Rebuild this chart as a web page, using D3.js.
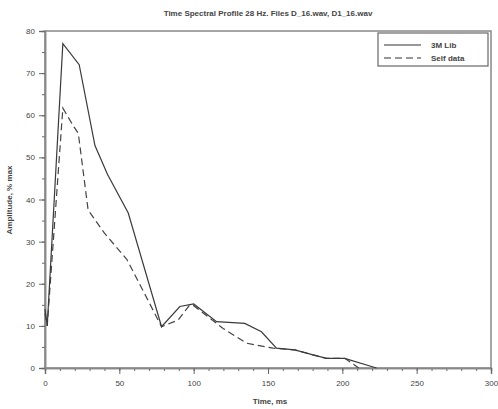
<!DOCTYPE html>
<html>
<head>
<meta charset="utf-8">
<script src="https://cdn.jsdelivr.net/npm/d3@7"></script>
<style>
  body { margin: 0; background: #fff; }
  text { font-family: "Liberation Sans", Arial, sans-serif; fill: #444; }
</style>
</head>
<body>
<div id="chart"></div>
<script>
// series: [time ms, amplitude % max]
const libTime = [0, 1.5, 12, 23, 33.6, 42, 56, 78.4, 90.7, 100, 115.4, 134.4, 145.6, 155.7, 168, 180.3, 189.3, 201.6, 223];
const libAmp  = [14, 10, 77, 72, 52.8, 46, 36.8, 9.8, 14.6, 15.2, 11, 10.6, 8.6, 4.7, 4.3, 3.1, 2.3, 2.3, 0];
const selfTime = [0, 1.5, 12, 19, 22.4, 29, 40, 55, 65, 78.4, 89.6, 97.4, 100, 119.8, 135.5, 153.4, 168, 180.3, 189.3, 201.6, 211];
const selfAmp  = [13, 10, 61.7, 57.5, 55.7, 37.5, 32, 25.8, 19, 9.8, 11.4, 15, 14.8, 9.4, 5.9, 4.7, 4.3, 3.1, 2.3, 2.3, 0];
const seriesNames = ["3M Lib", "Self data"];
const xTicks = [0, 50, 100, 150, 200, 250, 300];
const yTicks = [0, 10, 20, 30, 40, 50, 60, 70, 80];

const dims = {
  width: 498,
  height: 409,
  margin: { left: 45, right: 7, top: 31, bottom: 41 }
};
dims.boundedWidth = dims.width - dims.margin.left - dims.margin.right;
dims.boundedHeight = dims.height - dims.margin.top - dims.margin.bottom;

const svg = d3.select("#chart").append("svg")
  .attr("width", dims.width)
  .attr("height", dims.height);

const bounds = svg.append("g")
  .attr("transform", `translate(${dims.margin.left},${dims.margin.top})`);

const xScale = d3.scaleLinear().domain([0, 300]).range([0, dims.boundedWidth]);
const yScale = d3.scaleLinear().domain([0, 80]).range([dims.boundedHeight, 0]);

// frame
bounds.append("rect")
  .attr("width", dims.boundedWidth)
  .attr("height", dims.boundedHeight)
  .attr("fill", "none")
  .attr("stroke", "#888")
  .attr("stroke-width", 1.5);

// minor ticks
const xAxisMinor = d3.axisBottom(xScale).tickValues(d3.range(0, 301, 10)).tickSize(3).tickFormat("");
const yAxisMinor = d3.axisLeft(yScale).tickValues(d3.range(0, 81, 5)).tickSize(3).tickFormat("");
// major ticks with labels
const xAxis = d3.axisBottom(xScale).tickValues(xTicks).tickSize(6).tickPadding(6);
const yAxis = d3.axisLeft(yScale).tickValues(yTicks).tickSize(6).tickPadding(4);

function styleAxis(g) {
  g.select(".domain").attr("stroke", "#888").attr("stroke-width", 1.5);
  g.selectAll(".tick line").attr("stroke", "#666");
  g.selectAll(".tick text").attr("fill", "#555").style("font-size", "8px");
}

bounds.append("g").attr("transform", `translate(0,${dims.boundedHeight})`).call(xAxisMinor).call(styleAxis);
bounds.append("g").call(yAxisMinor).call(styleAxis);
bounds.append("g").attr("transform", `translate(0,${dims.boundedHeight})`).call(xAxis).call(styleAxis);
bounds.append("g").call(yAxis).call(styleAxis);

// lines
const libData = libTime.map((t, i) => ({ t, v: libAmp[i] }));
const selfData = selfTime.map((t, i) => ({ t, v: selfAmp[i] }));

const line = d3.line()
  .x(d => xScale(d.t))
  .y(d => yScale(d.v));

bounds.append("path")
  .datum(selfData)
  .attr("d", line)
  .attr("fill", "none")
  .attr("stroke", "#444")
  .attr("stroke-width", 1.2)
  .attr("stroke-dasharray", "7,4");

bounds.append("path")
  .datum(libData)
  .attr("d", line)
  .attr("fill", "none")
  .attr("stroke", "#3a3a3a")
  .attr("stroke-width", 1.2);

// legend
const legend = svg.append("g").attr("transform", "translate(378,33)");
legend.append("rect")
  .attr("width", 110)
  .attr("height", 33)
  .attr("fill", "#fff")
  .attr("stroke", "#666")
  .attr("stroke-width", 1.2);
seriesNames.forEach((name, i) => {
  const y = 12 + i * 13;
  legend.append("line")
    .attr("x1", 6).attr("x2", 43)
    .attr("y1", y).attr("y2", y)
    .attr("stroke", "#333")
    .attr("stroke-width", 1.2)
    .attr("stroke-dasharray", i === 0 ? null : "7,4");
  legend.append("text")
    .attr("x", 53).attr("y", y + 3)
    .style("font-size", "8px")
    .style("font-weight", "bold")
    .text(name);
});

// title and axis labels
svg.append("text")
  .attr("x", 268).attr("y", 16)
  .attr("text-anchor", "middle")
  .style("font-size", "8px")
  .style("font-weight", "bold")
  .text("Time Spectral Profile 28 Hz. Files D_16.wav, D1_16.wav");

svg.append("text")
  .attr("x", 270).attr("y", 404)
  .attr("text-anchor", "middle")
  .style("font-size", "8px")
  .style("font-weight", "bold")
  .text("Time, ms");

svg.append("text")
  .attr("transform", "translate(12,200) rotate(-90)")
  .attr("text-anchor", "middle")
  .style("font-size", "8px")
  .style("font-weight", "bold")
  .text("Amplitude, % max");
</script>
</body>
</html>
